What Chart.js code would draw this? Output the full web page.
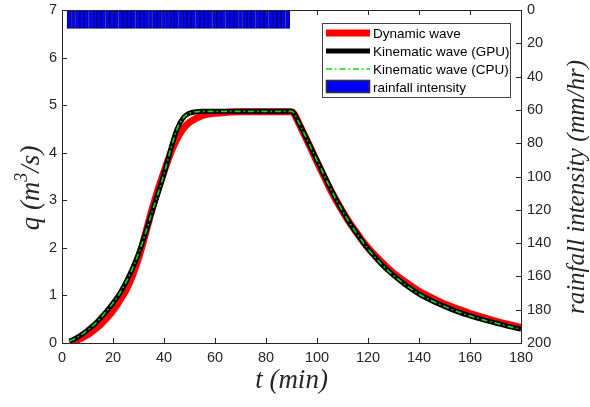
<!DOCTYPE html>
<html>
<head>
<meta charset="utf-8">
<script src="https://cdn.jsdelivr.net/npm/chart.js@4.4.0/dist/chart.umd.min.js"></script>
<style>
  html, body { margin: 0; padding: 0; background: #fff; }
</style>
</head>
<body>
<canvas id="chart" width="590" height="407"></canvas>
<script>
// time axis (min) for the kinematic curves
const tKin = [3, 5, 7.5, 10, 12.5, 15, 17.5, 20, 22.5, 25, 27.5, 30, 32.5, 35, 37.5, 40, 42.5, 45, 47.5, 50, 52.5, 55, 60, 70, 80, 90, 91, 92.5, 95, 97.5, 100, 102.5, 105, 107.5, 110, 112.5, 115, 117.5, 120, 125, 130, 135, 140, 145, 150, 155, 160, 165, 170, 175, 180];
const qKinGpu = [0.04, 0.09, 0.17, 0.27, 0.38, 0.52, 0.67, 0.84, 1.03, 1.27, 1.55, 1.88, 2.27, 2.7, 3.12, 3.55, 4.05, 4.48, 4.73, 4.83, 4.86, 4.87, 4.87, 4.87, 4.87, 4.87, 4.83, 4.67, 4.4, 4.12, 3.84, 3.56, 3.28, 3.02, 2.78, 2.55, 2.35, 2.16, 1.98, 1.67, 1.42, 1.21, 1.03, 0.89, 0.77, 0.66, 0.57, 0.49, 0.42, 0.35, 0.29];
const qKinCpu = [0.04, 0.09, 0.17, 0.27, 0.38, 0.52, 0.67, 0.84, 1.03, 1.27, 1.55, 1.88, 2.27, 2.7, 3.12, 3.55, 4.05, 4.48, 4.73, 4.83, 4.86, 4.87, 4.87, 4.87, 4.87, 4.87, 4.83, 4.67, 4.4, 4.12, 3.84, 3.56, 3.28, 3.02, 2.78, 2.55, 2.35, 2.16, 1.98, 1.67, 1.42, 1.21, 1.03, 0.89, 0.77, 0.66, 0.57, 0.49, 0.42, 0.35, 0.29];

// dynamic wave
const tDyn = [3, 5, 7.5, 10, 12.5, 15, 17.5, 20, 22.5, 25, 27.5, 30, 32.5, 35, 37.5, 40, 42.5, 45, 47.5, 50, 52.5, 55, 60, 65, 70, 80, 90, 91, 92.5, 95, 97.5, 100, 102.5, 105, 107.5, 110, 112.5, 115, 117.5, 120, 125, 130, 135, 140, 145, 150, 155, 160, 165, 170, 175, 180];
const qDyn = [0.0, 0.04, 0.1, 0.17, 0.27, 0.38, 0.52, 0.68, 0.88, 1.1, 1.4, 1.78, 2.25, 2.75, 3.2, 3.6, 3.98, 4.28, 4.5, 4.64, 4.72, 4.78, 4.83, 4.85, 4.86, 4.86, 4.86, 4.82, 4.66, 4.38, 4.1, 3.81, 3.53, 3.25, 3.0, 2.77, 2.55, 2.36, 2.17, 2.0, 1.72, 1.47, 1.27, 1.09, 0.95, 0.82, 0.72, 0.62, 0.54, 0.46, 0.39, 0.33];

// rainfall bars (min, mm/hr)
const rainTimes = [2.8, 4.5, 6.2, 7.8, 9.5, 11.2, 12.9, 14.6, 16.2, 17.9, 19.6, 21.3, 23.0, 24.6, 26.3, 28.0, 29.7, 31.4, 33.0, 34.7, 36.4, 38.1, 39.8, 41.4, 43.1, 44.8, 46.5, 48.2, 49.8, 51.5, 53.2, 54.9, 56.6, 58.2, 59.9, 61.6, 63.3, 65.0, 66.6, 68.3, 70.0, 71.7, 73.4, 75.0, 76.7, 78.4, 80.1, 81.8, 83.4, 85.1, 86.8, 88.5];
const rainValues = [11, 11, 11, 11, 11, 11, 11, 11, 11, 11, 11, 11, 11, 11, 11, 11, 11, 11, 11, 11, 11, 11, 11, 11, 11, 11, 11, 11, 11, 11, 11, 11, 11, 11, 11, 11, 11, 11, 11, 11, 11, 11, 11, 11, 11, 11, 11, 11, 11, 11, 11, 11];

const xTicks = [0, 20, 40, 60, 80, 100, 120, 140, 160, 180];
const qTicks = [0, 1, 2, 3, 4, 5, 6, 7];
const rainTicks = [0, 20, 40, 60, 80, 100, 120, 140, 160, 180, 200];

const AXIS = '#262626';
const SANS = '"Liberation Sans", Arial, sans-serif';
const SERIF = '"Liberation Serif", "Times New Roman", serif';

const pts = (xs, ys) => xs.map((x, i) => ({ x: x, y: ys[i] }));

// frame + inward ticks like matlab
const framePlugin = {
    id: 'frame',
    afterDatasetsDraw(chart) {
        const { ctx, chartArea: a, scales } = chart;
        ctx.save();
        ctx.strokeStyle = AXIS;
        ctx.lineWidth = 1;
        ctx.beginPath();
        xTicks.forEach(v => {
            const px = Math.round(scales.x.getPixelForValue(v)) + 0.5;
            ctx.moveTo(px, a.bottom); ctx.lineTo(px, a.bottom - 5);
            ctx.moveTo(px, a.top); ctx.lineTo(px, a.top + 5);
        });
        qTicks.forEach(v => {
            const py = Math.round(scales.y.getPixelForValue(v)) + 0.5;
            ctx.moveTo(a.left, py); ctx.lineTo(a.left + 5, py);
        });
        rainTicks.forEach(v => {
            const py = Math.round(scales.y2.getPixelForValue(v)) + 0.5;
            ctx.moveTo(a.right, py); ctx.lineTo(a.right - 5, py);
        });
        ctx.stroke();
        ctx.strokeRect(Math.round(a.left) + 0.5, Math.round(a.top) + 0.5, Math.round(a.right - a.left), Math.round(a.bottom - a.top));
        ctx.restore();
    },
    afterDraw(chart) {
        const { ctx, chartArea: a } = chart;
        ctx.save();
        ctx.fillStyle = AXIS;

        // x title
        ctx.font = 'italic 27px ' + SERIF;
        ctx.textAlign = 'center';
        ctx.textBaseline = 'middle';
        ctx.fillText('t (min)', (a.left + a.right) / 2, 381);

        // left title with superscript
        ctx.save();
        ctx.translate(31, 188);
        ctx.rotate(-Math.PI / 2);
        const big = 'italic 27px ' + SERIF, small = 'italic 18px ' + SERIF;
        ctx.font = big; const w1 = ctx.measureText('q (m').width, w3 = ctx.measureText('/s)').width;
        ctx.font = small; const w2 = ctx.measureText('3').width;
        let x0 = -(w1 + w2 + w3) / 2;
        ctx.textAlign = 'left';
        ctx.textBaseline = 'alphabetic';
        ctx.font = big; ctx.fillText('q (m', x0, 8);
        ctx.font = small; ctx.fillText('3', x0 + w1, -4);
        ctx.font = big; ctx.fillText('/s)', x0 + w1 + w2, 8);
        ctx.restore();

        // right title
        ctx.save();
        ctx.translate(577, 187);
        ctx.rotate(-Math.PI / 2);
        ctx.font = 'italic 25px ' + SERIF;
        ctx.textAlign = 'center';
        ctx.textBaseline = 'middle';
        ctx.fillText('rainfall intensity (mm/hr)', 0, 0);
        ctx.restore();

        // legend box
        const bx = 322.5, by = 23.5, bw = 188, bh = 74;
        ctx.fillStyle = '#fff';
        ctx.fillRect(bx, by, bw, bh);
        ctx.strokeStyle = '#404040';
        ctx.lineWidth = 1;
        ctx.strokeRect(bx, by, bw, bh);
        ctx.font = '13.5px ' + SANS;
        ctx.textAlign = 'left';
        ctx.textBaseline = 'middle';
        chart.data.datasets.forEach((ds, i) => {
            const cy = 33 + i * 18;
            if (ds.type === 'bar') {
                ctx.fillStyle = ds.backgroundColor;
                ctx.fillRect(326, cy - 7, 44, 13);
                ctx.strokeStyle = '#333';
                ctx.strokeRect(326.5, cy - 6.5, 43, 12);
            } else {
                ctx.strokeStyle = ds.borderColor;
                ctx.lineWidth = ds.borderWidth;
                ctx.setLineDash(ds.borderDash || []);
                ctx.beginPath();
                ctx.moveTo(326, cy); ctx.lineTo(370, cy);
                ctx.stroke();
                ctx.setLineDash([]);
            }
            ctx.fillStyle = '#000';
            ctx.fillText(ds.label, 373, cy + 1);
        });
        ctx.restore();
    }
};

const noPadV = s => { s.paddingTop = 0; s.paddingBottom = 0; };

new Chart(document.getElementById('chart'), {
    type: 'line',
    data: {
        datasets: [
            { label: 'Dynamic wave', data: pts(tDyn, qDyn), borderColor: '#ff0000', borderWidth: 7, pointRadius: 0, cubicInterpolationMode: 'monotone', yAxisID: 'y', order: 2 },
            { label: 'Kinematic wave (GPU)', data: pts(tKin, qKinGpu), borderColor: '#000000', borderWidth: 5, pointRadius: 0, cubicInterpolationMode: 'monotone', yAxisID: 'y', order: 1 },
            { label: 'Kinematic wave (CPU)', data: pts(tKin, qKinCpu), borderColor: '#00e000', borderWidth: 1.6, borderDash: [6, 3, 1.5, 3], pointRadius: 0, cubicInterpolationMode: 'monotone', yAxisID: 'y', order: 0 },
            { type: 'bar', label: 'rainfall intensity', data: pts(rainTimes, rainValues), backgroundColor: '#0000ff', borderColor: '#000070', borderWidth: 1, barPercentage: 1, categoryPercentage: 1, yAxisID: 'y2', order: 3 }
        ]
    },
    options: {
        responsive: false,
        animation: false,
        events: [],
        layout: { padding: { top: 10, left: 0, right: 0, bottom: 0 } },
        plugins: { legend: { display: false }, tooltip: { enabled: false } },
        scales: {
            x: {
                type: 'linear', min: 0, max: 180, offset: false,
                grid: { display: false, drawTicks: false }, border: { display: false },
                afterBuildTicks: s => { s.ticks = xTicks.map(v => ({ value: v })); },
                afterFit: s => { s.height = 64; s.paddingLeft = 0; s.paddingRight = 0; },
                ticks: { color: AXIS, font: { family: SANS, size: 14.5 }, padding: 6, maxRotation: 0 }
            },
            y: {
                position: 'left', min: 0, max: 7,
                grid: { display: false, drawTicks: false }, border: { display: false },
                afterBuildTicks: s => { s.ticks = qTicks.map(v => ({ value: v })); },
                afterFit: s => { s.width = 62; noPadV(s); },
                ticks: { color: AXIS, font: { family: SANS, size: 14.5 }, padding: 5 }
            },
            y2: {
                position: 'right', min: 0, max: 200, reverse: true,
                grid: { display: false, drawTicks: false }, border: { display: false },
                afterBuildTicks: s => { s.ticks = rainTicks.map(v => ({ value: v })); },
                afterFit: s => { s.width = 69; noPadV(s); },
                ticks: { color: AXIS, font: { family: SANS, size: 14.5 }, padding: 6 }
            }
        }
    },
    plugins: [framePlugin]
});
</script>
</body>
</html>
